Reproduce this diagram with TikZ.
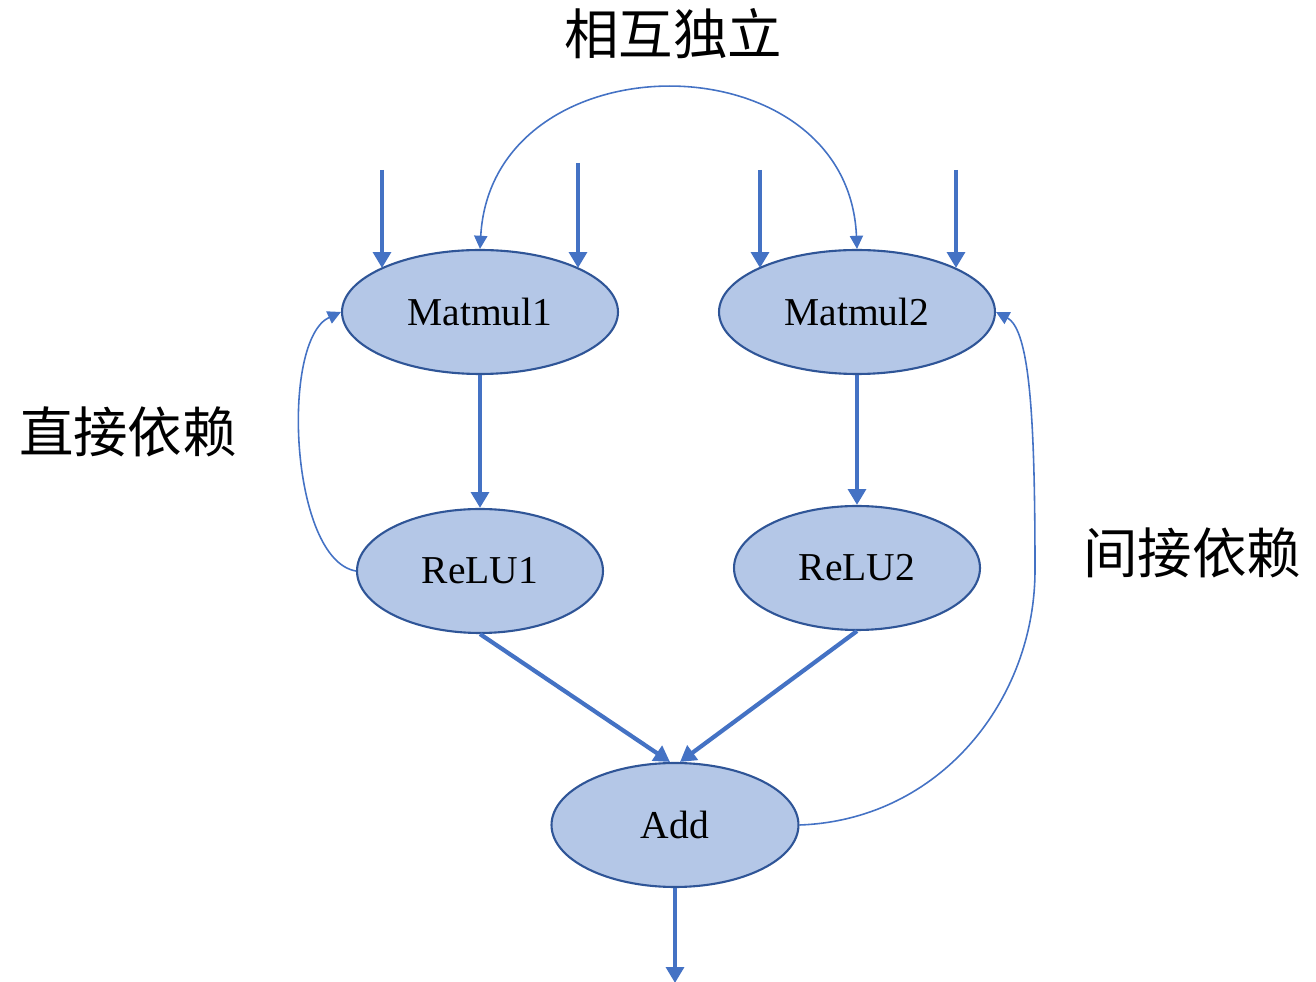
\documentclass[tikz,border=0pt]{standalone}
\usepackage{fontspec}
\setmainfont{Liberation Serif}
\newfontfamily\cjk{Noto Sans CJK SC}
\usetikzlibrary{shapes.geometric,arrows.meta}
\definecolor{nodefill}{HTML}{B4C7E7}
\definecolor{nodeline}{HTML}{2F5597}
\definecolor{arrowblue}{HTML}{4472C4}
\tikzset{
  op/.style={ellipse, draw=nodeline, line width=1.2pt, fill=nodefill, minimum width=#1, minimum height=2.48cm, inner sep=0pt, font=\fontsize{22.5}{24}\selectfont},
  thick arrow/.style={draw=arrowblue, line width=2.4pt, -{Triangle[length=9pt,width=10pt]}},
  thin arrow/.style={draw=arrowblue, line width=0.9pt, -{Triangle[length=7.5pt,width=7.5pt]}},
  cjklabel/.style={font=\cjk\fontsize{31}{34}\selectfont}
}
\begin{document}
\begin{tikzpicture}[x=0.02cm,y=-0.02cm]
\useasboundingbox (0,0) rectangle (1316,982);
\node[op=5.52cm] (m1) at (480,312) {Matmul1};
\node[op=5.52cm] (m2) at (857,312) {Matmul2};
\node[op=4.92cm] (r1) at (480,571) {ReLU1};
\node[op=4.92cm] (r2) at (857,568) {ReLU2};
\node[op=4.94cm] (add) at (675,825) {Add};
\node[cjklabel] (l1) at (673,34) {相互独立};
\node[cjklabel] (l2) at (128,432) {直接依赖};
\node[cjklabel] (l3) at (1192,553) {间接依赖};
% input coordinates
\coordinate (i1) at (382,170);
\coordinate (i2) at (578,163);
\coordinate (i3) at (760,170);
\coordinate (i4) at (956,170);
\coordinate (out) at (675,983);
\draw[thick arrow] (i1) -- (i1 |- 0,268);
\draw[thick arrow] (i2) -- (i2 |- 0,268);
\draw[thick arrow] (i3) -- (i3 |- 0,268);
\draw[thick arrow] (i4) -- (i4 |- 0,268);
\draw[thick arrow] (m1.south) -- (r1.north);
\draw[thick arrow] (m2.south) -- (r2.north);
\draw[thick arrow] (r1.south) -- ([xshift=-0.1cm]add.north);
\draw[thick arrow] (r2.south) -- ([xshift=0.1cm]add.north);
\draw[thick arrow] (add.south) -- (out);
% thin curves
\draw[thin arrow, {Triangle[length=7.5pt,width=7.5pt]}-{Triangle[length=7.5pt,width=7.5pt]}] (m1.north) .. controls (492,36) and (848,36) .. (m2.north);
\draw[thin arrow] (r1.west) .. controls (290,560) and (280,340) .. (m1.west);
\draw[thin arrow] (add.east) .. controls (940,820) and (1035,700) .. (1035,570) .. controls (1035,420) and (1030,330) .. (m2.east);
\end{tikzpicture}
\end{document}
